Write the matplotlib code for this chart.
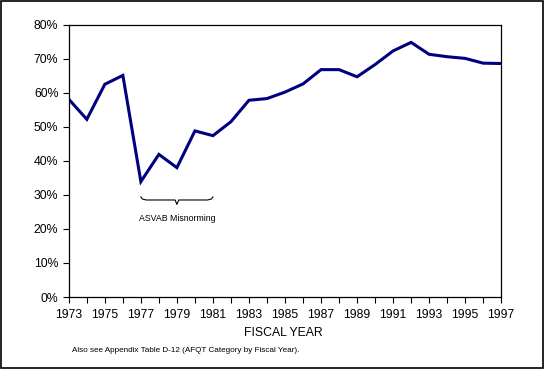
import matplotlib
matplotlib.use("Agg")
import matplotlib.pyplot as plt
from matplotlib.ticker import FuncFormatter, MultipleLocator

years = list(range(1973, 1998))
pct = [58.1, 52.2, 62.5, 65.1, 33.9, 41.9, 38.0, 48.8, 47.4, 51.5, 57.8, 58.3,
       60.2, 62.6, 66.8, 66.8, 64.7, 68.3, 72.3, 74.8, 71.3, 70.6, 70.1, 68.7, 68.6]
brace_start, brace_end = 1977, 1981
brace_label = "ASVAB Misnorming"

plt.rcParams['font.family'] = ['Liberation Sans', 'DejaVu Sans']

fig = plt.figure(figsize=(5.45, 3.69), dpi=100)
ax = fig.add_axes([68.8/545, 1 - 297/369, (501.2-68.8)/545, (297-24.7)/369])

ax.plot(years, pct, color='#000080', lw=2.2, solid_joinstyle='miter')
ax.set_xlim(1973, 1997)
ax.set_ylim(0, 80)
ax.yaxis.set_major_locator(MultipleLocator(10))
ax.yaxis.set_major_formatter(FuncFormatter(lambda v, p: f"{int(v)}%"))
ax.set_xticks(years, minor=True)
ax.set_xticks(years[::2])
ax.tick_params(axis='both', which='both', direction='out', length=4, width=0.8,
               labelsize=8.8, colors='black')
ax.tick_params(axis='x', which='minor', length=4)
ax.tick_params(axis='x', pad=5)
for s in ax.spines.values():
    s.set_linewidth(0.9)
    s.set_color('black')

# brace
mid = (brace_start + brace_end) / 2
bx = [brace_start, brace_start + 0.08, brace_start + 0.3, mid - 0.1, mid, mid + 0.1,
      brace_end - 0.3, brace_end - 0.08, brace_end]
by = [29.4, 28.8, 28.5, 28.5, 27.2, 28.5, 28.5, 28.8, 29.4]
ax.plot(bx, by, color='black', lw=0.8)
ax.text(mid, 23.0, brace_label, ha='center', va='center', fontsize=6.3)

fig.text(283/545, 1 - 333/369, "FISCAL YEAR", ha='center', va='center', fontsize=8.8)
fig.text(72/545, 1 - 351/369, "Also see Appendix Table D-12 (AFQT Category by Fiscal Year).",
         ha='left', va='center', fontsize=5.9)

border = plt.Rectangle((0.002, 0.003), 0.994, 0.994, transform=fig.transFigure,
                       fill=False, edgecolor='black', lw=1.2)
fig.patches.append(border)

fig.savefig("out.png", dpi=100)
